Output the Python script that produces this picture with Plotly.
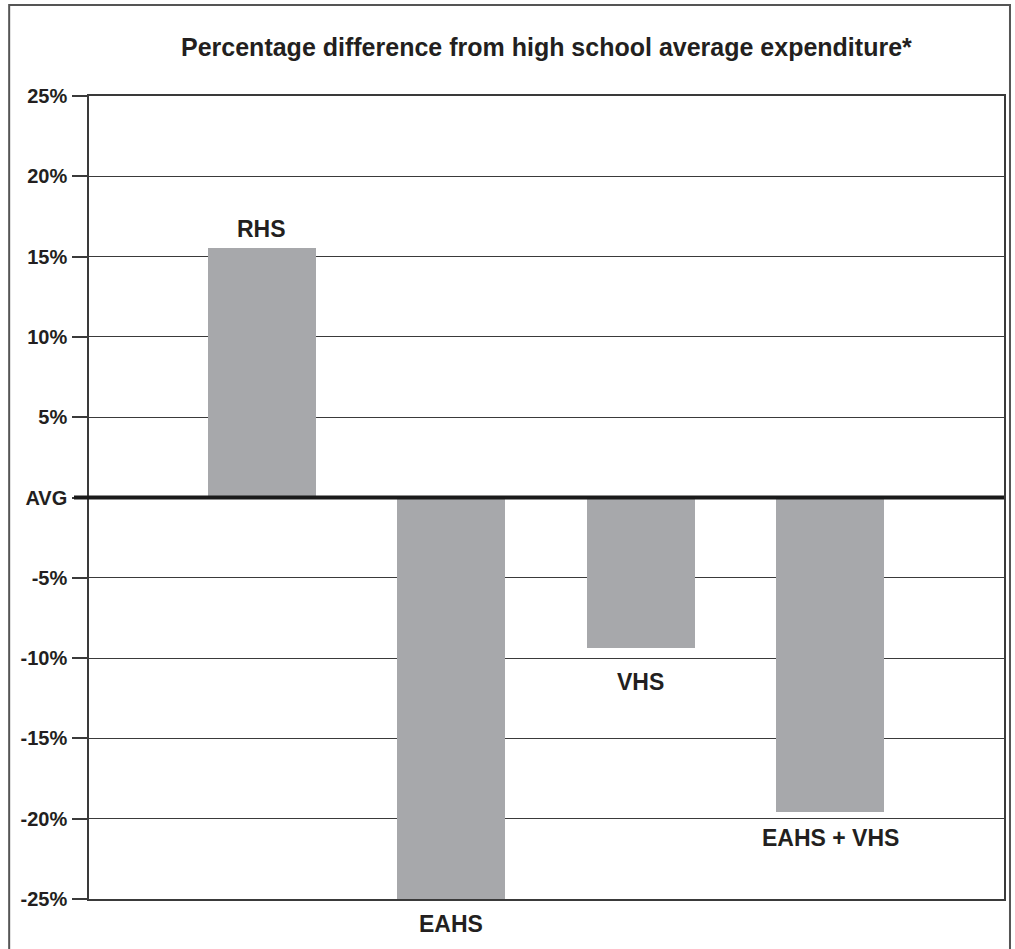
import plotly.graph_objects as go

categories = ["RHS", "EAHS", "VHS", "EAHS + VHS"]
values = [15.55, -25.0, -9.4, -19.6]
tick_values = [-25, -20, -15, -10, -5, 0, 5, 10, 15, 20, 25]
tick_labels = ["-25%", "-20%", "-15%", "-10%", "-5%", "AVG", "5%", "10%", "15%", "20%", "25%"]
title_text = "Percentage difference from high school average expenditure*"

FONT = "Liberation Sans"
TXT = "#231f20"
label_shift = [4, -10, -19, -11]

fig = go.Figure()
fig.add_trace(go.Bar(
    x=list(range(len(categories))), y=values,
    width=0.57, marker=dict(color="#a7a8ab", line=dict(width=0)),
    hoverinfo="skip", cliponaxis=False,
))

for i, (c, v) in enumerate(zip(categories, values)):
    fig.add_annotation(x=i, y=v, text="<b>%s</b>" % c, showarrow=False,
                       yanchor="bottom" if v >= 0 else "top", yshift=label_shift[i],
                       font=dict(family=FONT, size=23, color=TXT))

# title
fig.add_annotation(xref="paper", yref="paper", x=0.5, y=1.061, text="<b>%s</b>" % title_text,
                   showarrow=False, xanchor="center", yanchor="middle",
                   font=dict(family=FONT, size=25, color=TXT))

# thick AVG line including its tick
fig.add_shape(type="line", xref="paper", yref="y", x0=-0.0164, x1=1, y0=0, y1=0,
              line=dict(color="#1a1a1a", width=4), layer="above")

# outer border
fig.add_shape(type="rect", xref="paper", yref="paper",
              x0=(9 - 89) / 917, x1=(1012 - 89) / 917,
              y0=(899 - 960) / 803, y1=(899 - 5) / 803,
              line=dict(color="#555555", width=2), fillcolor="rgba(0,0,0,0)", layer="below")

fig.update_layout(
    width=1015, height=949,
    margin=dict(l=89, r=9, t=96, b=50),
    paper_bgcolor="white", plot_bgcolor="white",
    showlegend=False, bargap=0,
    font=dict(family=FONT, color=TXT),
)
fig.update_xaxes(range=[-0.91, 3.916], showticklabels=False, ticks="", showgrid=False,
                 zeroline=False, showline=True, linecolor="#3a3a3a", linewidth=1.5, mirror=True)
fig.update_yaxes(range=[-25, 25], tickvals=tick_values,
                 ticktext=["<b>%s</b>" % t for t in tick_labels],
                 ticks="outside", ticklen=15, tickwidth=1.5, tickcolor="#3a3a3a",
                 tickfont=dict(family=FONT, size=20, color=TXT),
                 showgrid=True, gridcolor="#3a3a3a", gridwidth=1.4,
                 zeroline=False, showline=True, linecolor="#3a3a3a", linewidth=1.5, mirror=True,
                 ticklabelstandoff=1)

fig.write_html("out.html")
